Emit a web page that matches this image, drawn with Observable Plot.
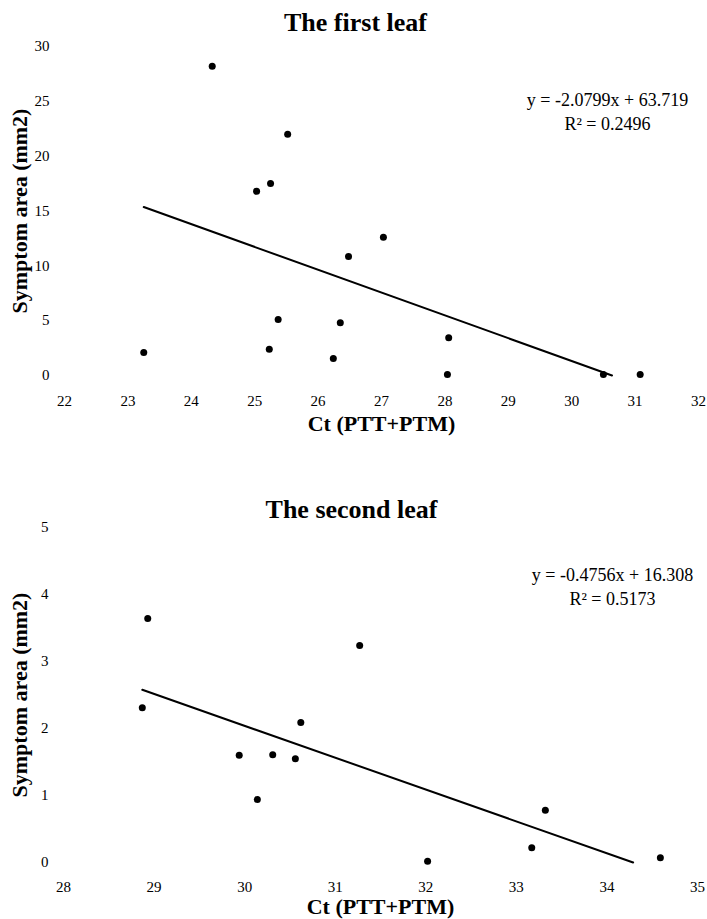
<!DOCTYPE html>
<html><head><meta charset="utf-8">
<script src="https://cdn.jsdelivr.net/npm/d3@7"></script>
<script src="https://cdn.jsdelivr.net/npm/@observablehq/plot@0.6"></script>
<style>
body{margin:0;background:#fff;}
#wrap{width:707px;}
svg{display:block;}
</style></head><body><div id="wrap"></div>
<script>
// ---- data ----
const titles = ["The first leaf", "The second leaf"];
const xLabel = "Ct (PTT+PTM)";
const yLabel = "Symptom area (mm2)";

const leaf1Ct   = [24.33, 25.52, 25.25, 25.03, 27.03, 26.48, 25.37, 26.35, 25.23, 23.25, 26.24, 28.06, 28.04, 30.50, 31.08];
const leaf1Area = [28.2, 22.0, 17.5, 16.8, 12.6, 10.85, 5.1, 4.8, 2.4, 2.1, 1.55, 3.45, 0.1, 0.1, 0.1];

const leaf2Ct   = [28.93, 31.27, 28.87, 30.62, 29.94, 30.31, 30.56, 30.14, 32.02, 33.17, 33.32, 34.59];
const leaf2Area = [3.64, 3.24, 2.31, 2.09, 1.60, 1.61, 1.55, 0.94, 0.02, 0.22, 0.78, 0.07];

const leaf1XTicks = [22, 23, 24, 25, 26, 27, 28, 29, 30, 31, 32];
const leaf1YTicks = [0, 5, 10, 15, 20, 25, 30];
const leaf2XTicks = [28, 29, 30, 31, 32, 33, 34, 35];
const leaf2YTicks = [0, 1, 2, 3, 4, 5];

const fitSlopes     = [-2.0799, -0.4756];
const fitIntercepts = [63.719, 16.308];
const fitR2         = ["0.2496", "0.5173"];

// ---- chart builder ----
function chart(i, ct, area, xTicks, yTicks, layout) {
  const pts = ct.map((c, k) => ({x: c, y: area[k]}));
  const m = fitSlopes[i], b = fitIntercepts[i];
  const x0 = d3.min(ct), x1 = Math.min(d3.max(ct), -b / m);
  const fit = [x0, x1].map(x => ({x, y: m * x + b}));
  const eq = `y = ${m}x + ${b}\nR² = ${fitR2[i]}`;
  const fmt = d => String(d);
  return Plot.plot({
    width: 707,
    height: layout.height,
    marginLeft: layout.ml, marginRight: layout.mr,
    marginTop: layout.mt, marginBottom: layout.mb,
    style: {fontFamily: "Liberation Serif", background: "#fff", color: "#000"},
    x: {domain: [xTicks[0], xTicks[xTicks.length - 1]]},
    y: {domain: [yTicks[0], yTicks[yTicks.length - 1]]},
    marks: [
      Plot.axisX({ticks: xTicks, tickFormat: fmt, tickSize: 0, tickPadding: layout.xpad, fontSize: 15, label: null}),
      Plot.axisY({ticks: yTicks, tickFormat: fmt, tickSize: 0, tickPadding: 15, fontSize: 15, label: null}),
      Plot.line(fit, {x: "x", y: "y", stroke: "#000", strokeWidth: 2}),
      Plot.dot(pts, {x: "x", y: "y", r: 3.5, fill: "#000", stroke: "none"}),
      Plot.text([titles[i]], {frameAnchor: "top", lineAnchor: "middle", textAnchor: "middle",
                              dx: layout.tdx, dy: layout.tdy, fontSize: 26, fontWeight: "bold"}),
      Plot.text([xLabel], {frameAnchor: "bottom", lineAnchor: "middle", textAnchor: "middle",
                           dy: layout.xldy, fontSize: 22, fontWeight: "bold"}),
      Plot.text([yLabel], {frameAnchor: "left", lineAnchor: "middle", textAnchor: "middle", rotate: -90,
                           dx: layout.yldx, fontSize: 22, fontWeight: "bold"}),
      Plot.text([eq], {frameAnchor: "top-right", textAnchor: "middle", lineAnchor: "top", lineHeight: 1.3,
                       dx: layout.edx, dy: layout.edy, fontSize: 18})
    ]
  });
}

const wrap = document.getElementById("wrap");
wrap.appendChild(chart(0, leaf1Ct, leaf1Area, leaf1XTicks, leaf1YTicks,
  {height: 450, ml: 64, mr: 9, mt: 46, mb: 75, xpad: 20, tdx: -26, tdy: -24, xldy: 48, yldx: -45, edx: -91, edy: 43}));
wrap.appendChild(chart(1, leaf2Ct, leaf2Area, leaf2XTicks, leaf2YTicks,
  {height: 469, ml: 63, mr: 10, mt: 77, mb: 57, xpad: 19, tdx: -29, tdy: -18, xldy: 44, yldx: -44, edx: -85, edy: 37}));
</script>
</body></html>
